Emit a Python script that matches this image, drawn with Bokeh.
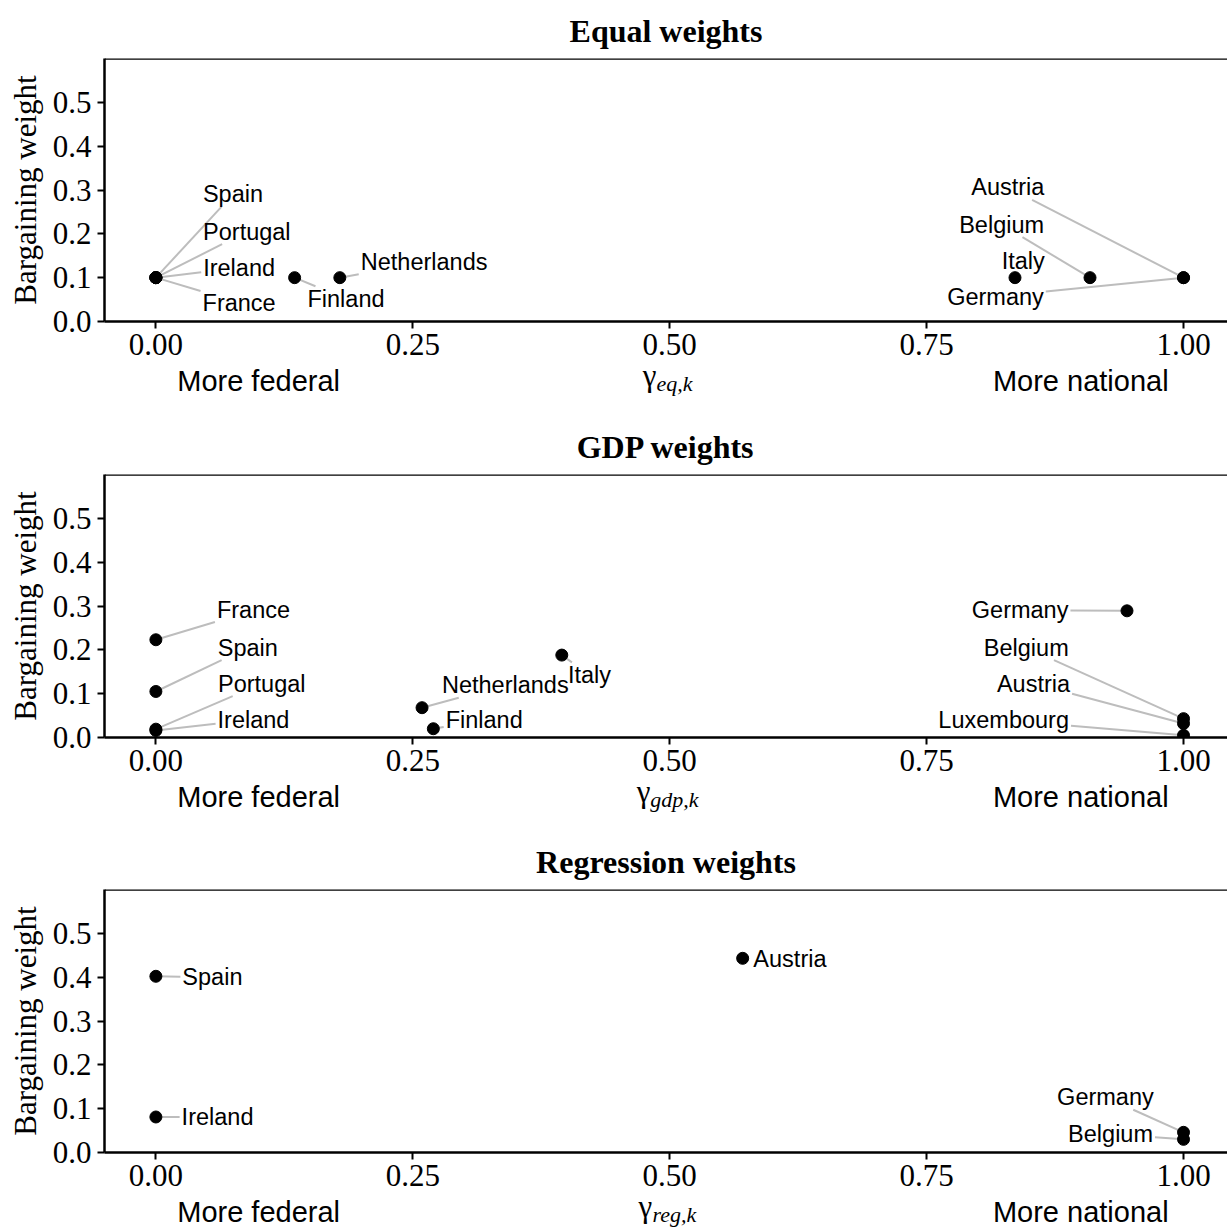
import math
from bokeh.plotting import figure
from bokeh.models import (Range1d, FixedTicker, NumeralTickFormatter, ColumnDataSource, Span,
                          LinearAxis)
from bokeh.layouts import column
from bokeh.core.properties import value
from bokeh.embed import file_html
from bokeh.resources import INLINE

# ---------------- data ----------------
x_ticks = [0.0, 0.25, 0.5, 0.75, 1.0]
y_ticks = [0.0, 0.1, 0.2, 0.3, 0.4, 0.5]

panel_titles = ["Equal weights", "GDP weights", "Regression weights"]
gamma_subscripts = ["eq,k", "gdp,k", "reg,k"]
side_labels = ["More federal", "More national"]
side_label_x = [0.10, 0.90]

eq_country = ["Spain", "Portugal", "Ireland", "France", "Finland", "Netherlands",
              "Italy", "Belgium", "Austria", "Germany"]
eq_gamma = [0.0, 0.0, 0.0, 0.0, 0.135, 0.179, 0.836, 0.909, 1.0, 1.0]
eq_weight = [0.1, 0.1, 0.1, 0.1, 0.1, 0.1, 0.1, 0.1, 0.1, 0.1]

gdp_country = ["France", "Spain", "Portugal", "Ireland", "Netherlands", "Finland",
               "Italy", "Germany", "Belgium", "Austria", "Luxembourg"]
gdp_gamma = [0.0, 0.0, 0.0, 0.0, 0.259, 0.270, 0.395, 0.945, 1.0, 1.0, 1.0]
gdp_weight = [0.223, 0.105, 0.019, 0.016, 0.068, 0.020, 0.188, 0.289, 0.043, 0.032, 0.005]

reg_country = ["Spain", "Ireland", "Austria", "Germany", "Belgium"]
reg_gamma = [0.0, 0.0, 0.571, 1.0, 1.0]
reg_weight = [0.402, 0.081, 0.443, 0.046, 0.030]

# repelled label positions (layout, data units)
eq_lab_x = [0.075, 0.0885, 0.081, 0.081, 0.185, 0.261, 0.844, 0.823, 0.829, 0.817]
eq_lab_y = [0.290, 0.205, 0.123, 0.043, 0.052, 0.135, 0.137, 0.221, 0.306, 0.057]
gdp_lab_x = [0.095, 0.0895, 0.103, 0.095, 0.340, 0.3195, 0.422, 0.841, 0.847, 0.854, 0.825]
gdp_lab_y = [0.290, 0.205, 0.123, 0.041, 0.119, 0.040, 0.143, 0.290, 0.205, 0.123, 0.040]
reg_lab_x = [0.055, 0.060, 0.617, 0.924, 0.929]
reg_lab_y = [0.400, 0.081, 0.441, 0.126, 0.042]

# ---------------- layout / style ----------------
X0, X1 = -0.05, 1.0428
Y0, Y1 = 0.0, 0.6
FRAME_W, FRAME_H = 1123, 263
PX_PER_X = FRAME_W / (X1 - X0)
BORDER_LEFT, BORDER_TOP = 104, 58
LABEL_PX = 23.5
SERIF = "Liberation Serif"
SANS = "Liberation Sans"
SEG_COLOR = "#bdbdbd"

ARIAL_W = {"A": 667, "B": 667, "F": 611, "G": 778, "I": 278, "L": 556, "N": 722,
           "P": 667, "S": 667, "a": 556, "b": 556, "c": 500, "d": 556, "e": 556,
           "g": 556, "h": 556, "i": 222, "l": 222, "m": 833, "n": 556, "o": 556,
           "p": 556, "r": 333, "s": 500, "t": 278, "u": 556, "x": 500, "y": 500}
TIMES_ITALIC_W = {"e": 444, "q": 500, ",": 250, "k": 444, "g": 500, "d": 500,
                  "p": 500, "r": 389}
GAMMA_PX, SUB_PX = 31, 22
GAMMA_W = 13.5


def text_w(s):
    return sum(ARIAL_W.get(c, 556) for c in s) / 1000.0 * LABEL_PX


def segments(gx, gy, lx, ly, names):
    sy = FRAME_H / (Y1 - Y0)
    xs0, ys0, xs1, ys1 = [], [], [], []
    for px, py, cx, cy, nm in zip(gx, gy, lx, ly, names):
        dx = (cx - px) * PX_PER_X
        dy = (cy - py) * sy
        hw = text_w(nm) / 2 + 2
        hh = 12.5
        tx = 1 - hw / abs(dx) if dx else -1e9
        ty = 1 - hh / abs(dy) if dy else -1e9
        t = max(tx, ty)
        if t <= 0:
            continue
        if t * math.hypot(dx, dy) < 10:
            continue
        xs0.append(px)
        ys0.append(py)
        xs1.append(px + t * (cx - px))
        ys1.append(py + t * (cy - py))
    return dict(x0=xs0, y0=ys0, x1=xs1, y1=ys1)


def text_axis(ticks, labels, font, size, style, standoff):
    ax = LinearAxis(ticker=FixedTicker(ticks=ticks),
                    major_label_overrides={t: l for t, l in zip(ticks, labels)})
    ax.axis_line_color = None
    ax.major_tick_line_color = None
    ax.minor_tick_line_color = None
    ax.major_tick_out = 0
    ax.major_tick_in = 0
    ax.minor_tick_out = 0
    ax.major_label_text_font = font
    ax.major_label_text_font_size = size
    ax.major_label_text_font_style = style
    ax.major_label_text_color = "black"
    ax.major_label_standoff = standoff
    return ax


def make_panel(title, sub, countries, gamma, weight, lab_x, lab_y, border_bottom):
    p = figure(frame_width=FRAME_W, frame_height=FRAME_H,
               x_range=Range1d(X0, X1), y_range=Range1d(Y0, Y1),
               output_backend="svg", toolbar_location=None,
               min_border_left=BORDER_LEFT, min_border_right=0,
               min_border_top=BORDER_TOP, min_border_bottom=border_bottom, title=title)
    p.outline_line_color = None
    p.background_fill_color = "white"
    p.border_fill_color = "white"
    p.grid.visible = False

    p.title.text_font = SERIF
    p.title.text_font_style = "bold"
    p.title.text_font_size = "32px"
    p.title.align = "center"
    p.title.offset = 6
    p.title.standoff = 19
    p.title.text_color = "black"

    for ax in (p.xaxis[0], p.yaxis[0]):
        ax.axis_line_width = 2.5
        ax.axis_line_color = "black"
        ax.major_tick_line_color = "black"
        ax.major_tick_line_width = 2
        ax.major_tick_out = 7
        ax.major_tick_in = 0
        ax.minor_tick_line_color = None
        ax.major_label_text_font = SERIF
        ax.major_label_text_font_size = "31px"
        ax.major_label_text_color = "black"

    p.xaxis.ticker = FixedTicker(ticks=x_ticks)
    p.xaxis.formatter = NumeralTickFormatter(format="0.00")
    p.xaxis.major_label_standoff = 5
    p.yaxis.ticker = FixedTicker(ticks=y_ticks)
    p.yaxis.formatter = NumeralTickFormatter(format="0.0")
    p.yaxis.major_label_standoff = 6
    p.yaxis.axis_label = "Bargaining weight"
    p.yaxis.axis_label_text_font = SERIF
    p.yaxis.axis_label_text_font_style = "normal"
    p.yaxis.axis_label_text_font_size = "31px"
    p.yaxis.axis_label_text_color = "black"
    p.yaxis.axis_label_standoff = 7

    # x-axis title row: "More federal"   gamma_{sub}   "More national"
    sub_w = sum(TIMES_ITALIC_W.get(c, 500) for c in sub) / 1000.0 * SUB_PX
    start = 0.498 - (GAMMA_W + sub_w) / 2 / PX_PER_X
    x_gamma = start + GAMMA_W / 2 / PX_PER_X
    x_sub = start + (GAMMA_W + sub_w / 2) / PX_PER_X
    p.add_layout(text_axis([x_sub], [sub], SERIF, f"{SUB_PX}px", "italic", 13), "below")
    p.add_layout(text_axis([x_gamma], ["\u03b3"], SERIF, f"{GAMMA_PX}px", "normal", -41), "below")
    p.add_layout(text_axis(side_label_x, side_labels, SANS, "29px", "normal", -34), "below")

    # top border of the panel
    p.add_layout(Span(location=Y1, dimension="width", line_color="black", line_width=2.5))

    seg = ColumnDataSource(segments(gamma, weight, lab_x, lab_y, countries))
    p.segment(x0="x0", y0="y0", x1="x1", y1="y1", source=seg,
              line_color=SEG_COLOR, line_width=2)

    pts = ColumnDataSource(dict(x=gamma, y=weight))
    p.scatter(x="x", y="y", source=pts, size=12, color="black")

    labs = ColumnDataSource(dict(x=lab_x, y=lab_y, text=countries))
    p.text(x="x", y="y", text="text", source=labs, text_font=value(SANS),
           text_font_size=f"{LABEL_PX}px", text_align="center",
           text_baseline="middle", text_color="black")
    return p


p1 = make_panel(panel_titles[0], gamma_subscripts[0], eq_country, eq_gamma, eq_weight,
                eq_lab_x, eq_lab_y, 95)
p2 = make_panel(panel_titles[1], gamma_subscripts[1], gdp_country, gdp_gamma, gdp_weight,
                gdp_lab_x, gdp_lab_y, 94)
p3 = make_panel(panel_titles[2], gamma_subscripts[2], reg_country, reg_gamma, reg_weight,
                reg_lab_x, reg_lab_y, 78)

layout = column(p1, p2, p3)
open("out.html", "w").write(file_html(layout, INLINE))
